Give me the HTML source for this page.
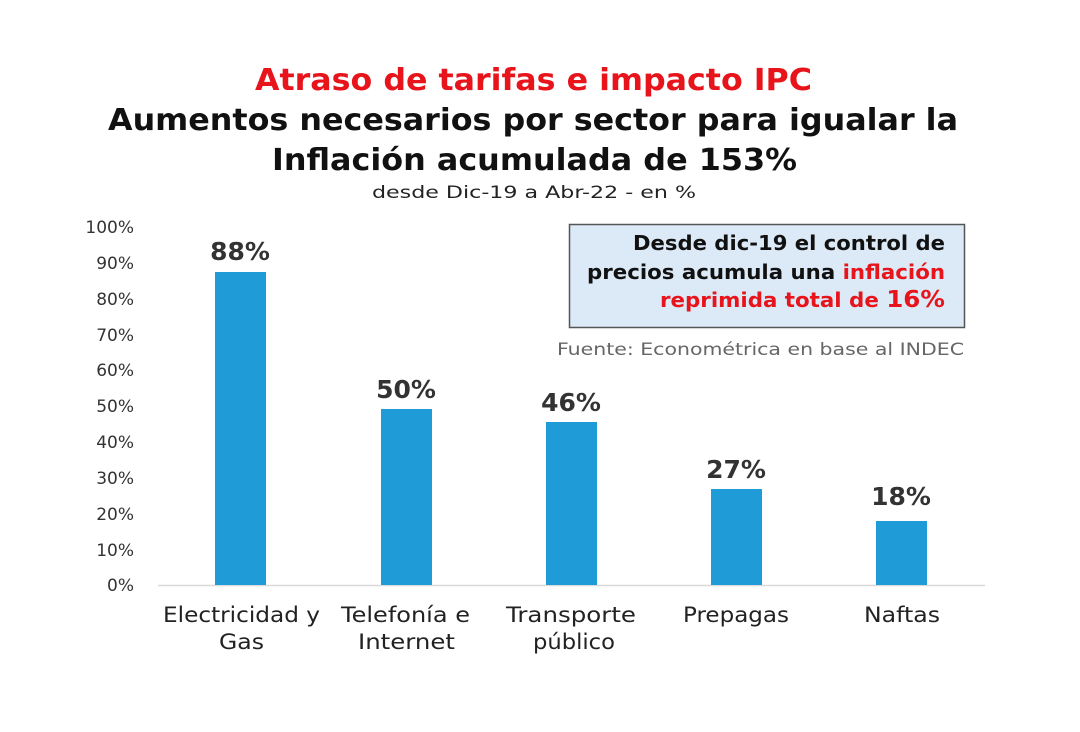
<!DOCTYPE html>
<html><head><meta charset="utf-8"><style>
html,body{margin:0;padding:0;background:#fff;}
svg{display:block;font-family:"DejaVu Sans","Liberation Sans",sans-serif;}
</style></head><body>
<svg width="1080" height="732" viewBox="0 0 1080 732" xmlns="http://www.w3.org/2000/svg">
<rect width="1080" height="732" fill="#fff"/>
<text x="255" y="90" font-size="30" font-weight="bold" fill="#e8141b" textLength="557" lengthAdjust="spacingAndGlyphs">Atraso de tarifas e impacto IPC</text>
<text x="108" y="130" font-size="30" font-weight="bold" fill="#111" textLength="850" lengthAdjust="spacingAndGlyphs">Aumentos necesarios por sector para igualar la</text>
<text x="272" y="170" font-size="30" font-weight="bold" fill="#111" textLength="525" lengthAdjust="spacingAndGlyphs">Inflación acumulada de 153%</text>
<text x="372" y="198" font-size="17" fill="#222" textLength="324" lengthAdjust="spacingAndGlyphs">desde Dic-19 a Abr-22  -  en %</text>
<g font-size="17" fill="#333" text-anchor="end">
<text x="134" y="233">100%</text><text x="134" y="269">90%</text><text x="134" y="305">80%</text>
<text x="134" y="341">70%</text><text x="134" y="376">60%</text><text x="134" y="412">50%</text>
<text x="134" y="448">40%</text><text x="134" y="484">30%</text><text x="134" y="520">20%</text>
<text x="134" y="556">10%</text><text x="134" y="591">0%</text>
</g>
<line x1="158" y1="585.5" x2="985" y2="585.5" stroke="#d9d9d9" stroke-width="1.5"/>
<g fill="#1f9bd7">
<rect x="215" y="272" width="51" height="313"/>
<rect x="381" y="409" width="51" height="176"/>
<rect x="546" y="422" width="51" height="163"/>
<rect x="711" y="489" width="51" height="96"/>
<rect x="876" y="521" width="51" height="64"/>
</g>
<g font-size="25" font-weight="bold" fill="#333" text-anchor="middle">
<text x="240" y="260">88%</text><text x="406" y="398">50%</text><text x="571" y="411">46%</text>
<text x="736" y="478">27%</text><text x="901" y="505">18%</text>
</g>
<g font-size="21" fill="#222">
<text x="163" y="622" textLength="157" lengthAdjust="spacingAndGlyphs">Electricidad y</text>
<text x="219" y="649" textLength="45" lengthAdjust="spacingAndGlyphs">Gas</text>
<text x="341" y="622" textLength="129" lengthAdjust="spacingAndGlyphs">Telefonía e</text>
<text x="358" y="649" textLength="97" lengthAdjust="spacingAndGlyphs">Internet</text>
<text x="506" y="622" textLength="130" lengthAdjust="spacingAndGlyphs">Transporte</text>
<text x="533" y="649" textLength="82" lengthAdjust="spacingAndGlyphs">público</text>
<text x="683" y="622" textLength="106" lengthAdjust="spacingAndGlyphs">Prepagas</text>
<text x="864" y="622" textLength="76" lengthAdjust="spacingAndGlyphs">Naftas</text>
</g>
<rect x="569.5" y="224.5" width="395" height="103" fill="#dce9f6" stroke="#555" stroke-width="1.5"/>
<g font-size="20" font-weight="bold">
<text x="633" y="250" fill="#111" textLength="312" lengthAdjust="spacingAndGlyphs">Desde dic-19 el control de</text>
<text x="587" y="279" fill="#111" textLength="358" lengthAdjust="spacingAndGlyphs">precios acumula una <tspan fill="#e8141b">inflación</tspan></text>
<text x="660" y="307" fill="#e8141b" textLength="285" lengthAdjust="spacingAndGlyphs">reprimida total de <tspan font-size="23">16%</tspan></text>
</g>
<text x="557" y="355" font-size="17" fill="#666" textLength="407" lengthAdjust="spacingAndGlyphs">Fuente: Econométrica en base al INDEC</text>
</svg>
</body></html>
